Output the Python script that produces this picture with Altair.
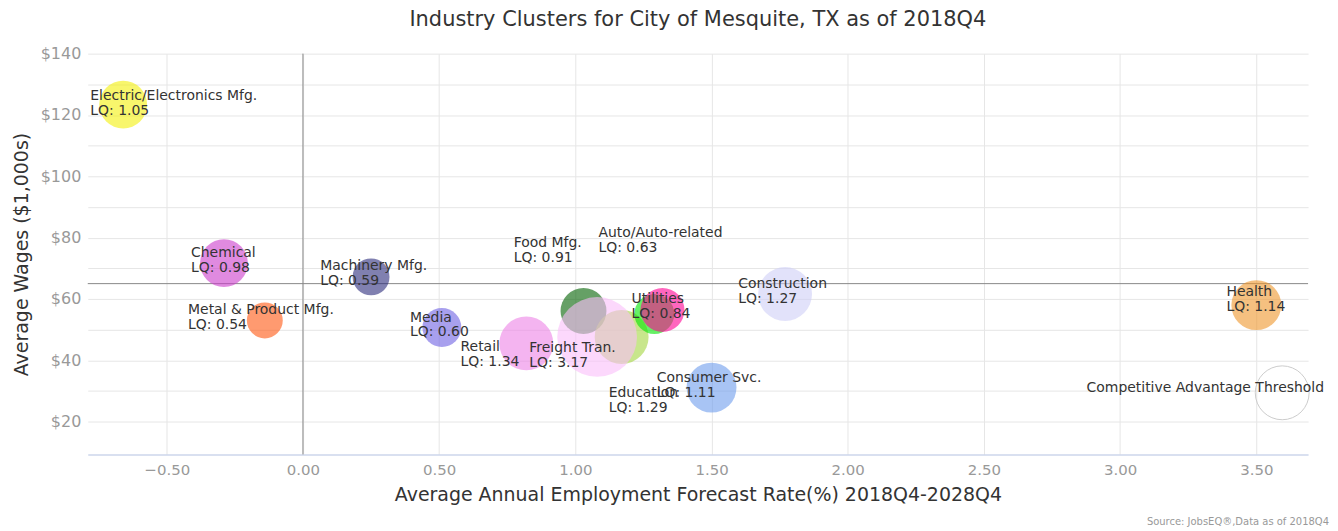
import altair as alt
import pandas as pd

# ---------------- data ----------------
clusters = ["Electric/Electronics Mfg.", "Chemical", "Metal & Product Mfg.", "Machinery Mfg.",
            "Media", "Retail", "Food Mfg.", "Education", "Freight Tran.", "Auto/Auto-related",
            "Utilities", "Consumer Svc.", "Construction", "Health"]
growth = [-0.66, -0.29, -0.14, 0.25, 0.51, 0.82, 1.03, 1.17, 1.08, 1.29, 1.32, 1.50, 1.77, 3.50]
wages = [123.4, 71.7, 53.0, 67.2, 50.7, 45.5, 56.1, 47.6, 47.6, 55.1, 56.4, 31.1, 61.6, 58.0]
lq = [1.05, 0.98, 0.54, 0.59, 0.60, 1.34, 0.91, 1.29, 3.17, 0.63, 0.84, 1.11, 1.27, 1.14]
employment = [2880, 2880, 1620, 1710, 1900, 3650, 2650, 3650, 8000, 2000, 2420, 3130, 3650, 3130]

threshold_label = ["Competitive Advantage Threshold"]
threshold_growth = [3.595]
threshold_wage = [29.4]
threshold_size = [3650]

avg_growth = [0.0]
avg_wage = [65.0]

x_ticks = [-0.5, 0.0, 0.5, 1.0, 1.5, 2.0, 2.5, 3.0, 3.5]
y_grid = [20, 30, 40, 50, 60, 70, 80, 90, 100, 110, 120, 130, 140]

# ---------------- styling / layout ----------------
colors = ["#f3f00a", "#cb3ccb", "#ff5711", "#2b2b7b", "#6e61e3", "#ed82e6", "#006100",
          "#a3d53f", "#fabefa", "#00e600", "#ff0093", "#6e9ded", "#cfcff7", "#ee962b"]

W, H = 1224, 402
X_DOM = [-0.79, 3.69]
Y_DOM = [9.3, 140]
PX_X = W / (X_DOM[1] - X_DOM[0])
PX_Y = H / (Y_DOM[1] - Y_DOM[0])
LINE = 15
FONT = "DejaVu Sans"

# label offsets in pixels: (left edge - bubble centre, first line centre - bubble centre)
label_off = {
    "Electric/Electronics Mfg.": (-33, -9),
    "Chemical": (-33, -10),
    "Metal & Product Mfg.": (-77, -10),
    "Machinery Mfg.": (-51, -11),
    "Media": (-32, -10),
    "Retail": (-66, 4),
    "Food Mfg.": (-70, -68),
    "Education": (-13, 56),
    "Freight Tran.": (-68, 11),
    "Auto/Auto-related": (-56, -81),
    "Utilities": (-31, -11),
    "Consumer Svc.": (-55, -10),
    "Construction": (-47, -10),
    "Health": (-30, -13),
}

df = pd.DataFrame({"cluster": clusters, "growth": growth, "wage": wages,
                   "lq": lq, "employment": employment})
df["lqtext"] = df["lq"].map(lambda v: f"LQ: {v:.2f}")
df["lx"] = [g + label_off[c][0] / PX_X for c, g in zip(df["cluster"], df["growth"])]
df["ly1"] = [w - label_off[c][1] / PX_Y for c, w in zip(df["cluster"], df["wage"])]
df["ly2"] = [w - (label_off[c][1] + LINE) / PX_Y for c, w in zip(df["cluster"], df["wage"])]

thr = pd.DataFrame({"label": threshold_label, "growth": threshold_growth,
                    "wage": threshold_wage, "employment": threshold_size})
thr["lx"] = thr["growth"] + 42 / PX_X
thr["ly"] = thr["wage"] + 5 / PX_Y

vline = pd.DataFrame({"growth": avg_growth})
hline = pd.DataFrame({"wage": avg_wage})

x_scale = alt.Scale(domain=X_DOM, nice=False, zero=False)
y_scale = alt.Scale(domain=Y_DOM, nice=False, zero=False)
size_scale = alt.Scale(domain=[0, 8000], range=[0, 6400], zero=True)

X_TITLE = "Average Annual Employment Forecast Rate(%) 2018Q4-2028Q4"
Y_TITLE = "Average Wages ($1,000s)"
x_axis = alt.Axis(title=X_TITLE,
                  values=x_ticks, format=".2f", grid=True, gridColor="#e6e6e6",
                  ticks=False, tickSize=0, domainColor="#ccd6eb", domainWidth=1.5,
                  labelColor="#999999", labelFontSize=15, labelFont=FONT, labelPadding=8,
                  labelFlush=False, titleFont=FONT, titleFontSize=19, titleFontWeight="normal",
                  titleColor="#333333", titlePadding=8)
y_axis = alt.Axis(title=Y_TITLE, values=y_grid,
                  labelExpr="datum.value % 20 == 0 ? '$' + datum.value : ''",
                  grid=True, gridColor="#e6e6e6", ticks=False, tickSize=0, domain=False,
                  labelColor="#999999", labelFontSize=16, labelFont=FONT, labelPadding=7,
                  labelFlush=False, titleFont=FONT, titleFontSize=19, titleFontWeight="normal",
                  titleColor="#333333", titlePadding=9)


def X(field):
    return alt.X(field, type="quantitative", scale=x_scale, axis=x_axis, title=X_TITLE)


def Y(field):
    return alt.Y(field, type="quantitative", scale=y_scale, axis=y_axis, title=Y_TITLE)


bubbles = alt.Chart(df).mark_circle(opacity=0.6, strokeWidth=0).encode(
    x=X("growth"), y=Y("wage"),
    size=alt.Size("employment:Q", scale=size_scale, legend=None),
    color=alt.Color("cluster:N", scale=alt.Scale(domain=clusters, range=colors), legend=None),
)

rule_v = alt.Chart(vline).mark_rule(color="#888888", strokeWidth=1).encode(x=X("growth"))
rule_h = alt.Chart(hline).mark_rule(color="#888888", strokeWidth=1).encode(y=Y("wage"))

threshold = alt.Chart(thr).mark_point(shape="circle", filled=False, stroke="#cccccc",
                                      strokeWidth=1, opacity=1).encode(
    x=X("growth"), y=Y("wage"),
    size=alt.Size("employment:Q", scale=size_scale, legend=None))

name_txt = alt.Chart(df).mark_text(align="left", baseline="middle", font=FONT,
                                   fontSize=14, color="#333333").encode(
    x=X("lx"), y=Y("ly1"), text="cluster:N")
lq_txt = alt.Chart(df).mark_text(align="left", baseline="middle", font=FONT,
                                 fontSize=14, color="#333333").encode(
    x=X("lx"), y=Y("ly2"), text="lqtext:N")
thr_txt = alt.Chart(thr).mark_text(align="right", baseline="middle", font=FONT,
                                   fontSize=14, color="#333333").encode(
    x=X("lx"), y=Y("ly"), text="label:N")

source = alt.Chart(pd.DataFrame({"t": ["Source: JobsEQ\u00ae,Data as of 2018Q4"]})).mark_text(
    align="right", baseline="middle", font=FONT, fontSize=10, color="#999999").encode(
    x=alt.value(W + 21), y=alt.value(H + 68), text="t:N")

chart = alt.layer(rule_v, rule_h, bubbles, threshold, name_txt, lq_txt, thr_txt, source).properties(
    width=W, height=H,
    title=alt.TitleParams("Industry Clusters for City of Mesquite, TX as of 2018Q4",
                          font=FONT, fontSize=21, fontWeight="normal", color="#333333",
                          anchor="middle", offset=16),
    autosize=alt.AutoSizeParams(type="none"),
    padding={"left": 80, "top": 45, "right": 22, "bottom": 74},
).configure(background="white", view=alt.ViewConfig(stroke="transparent", strokeWidth=0))

chart.save("out.html", embed_options={"renderer": "svg", "actions": False})
